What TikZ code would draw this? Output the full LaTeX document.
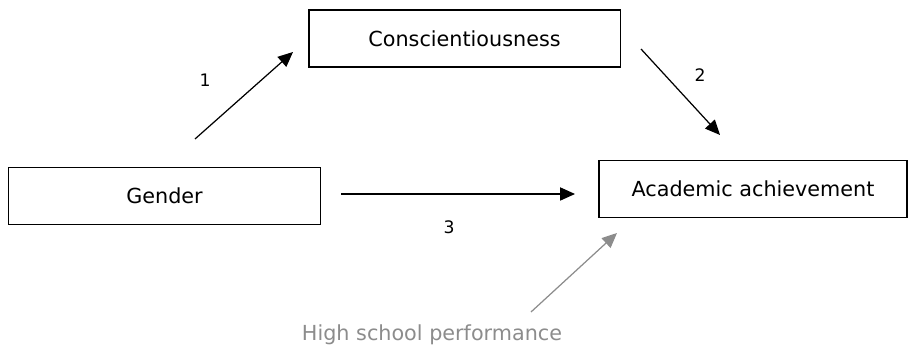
\documentclass[tikz,border=0pt]{standalone}
\usepackage{fontspec}
\setmainfont{DejaVu Sans}
\usepackage{tikz}
\usetikzlibrary{arrows.meta}
\definecolor{hsgray}{HTML}{8C8C8C}

\begin{document}
\begin{tikzpicture}[x=0.02cm, y=-0.02cm,
    varbox/.style={draw, line width=1.1pt, minimum width=6.24cm, minimum height=1.14cm,
                   font=\fontsize{11.8}{14}\selectfont},
    path/.style={line width=0.7pt, -{Triangle[length=8.5pt, width=7.5pt]}},
    pathlbl/.style={font=\fontsize{9.8}{11}\selectfont}]
    \useasboundingbox (0,0) rectangle (909,350);
    % Boxes
    \node[varbox] (consc) at (464.5,38.5) {Conscientiousness};
    \node[varbox] (gender) at (164.5,196) {Gender};
    \node[varbox, minimum width=6.16cm] (acad) at (753,189) {Academic achievement};
    \node[font=\fontsize{11.8}{14}\selectfont, text=hsgray] (hsp) at (432,335) {High school performance};
    % Arrow ends
    \coordinate (p1s) at (195,139);
    \coordinate (p1e) at (293,52);
    \coordinate (p2s) at (641,49);
    \coordinate (p2e) at (720,135);
    \coordinate (p3s) at (341,194);
    \coordinate (p3e) at (575,194);
    \coordinate (p4s) at (531,312);
    \coordinate (p4e) at (617,233);
    % Paths
    \draw[path] (p1s) -- (p1e);
    \draw[path] (p2s) -- (p2e);
    \draw[path] (p3s) -- (p3e);
    \draw[path, hsgray] (p4s) -- (p4e);
    % Path labels
    \node[pathlbl] (l1) at (205,80) {1};
    \node[pathlbl] (l2) at (700,75) {2};
    \node[pathlbl] (l3) at (449,227) {3};
\end{tikzpicture}
\end{document}
